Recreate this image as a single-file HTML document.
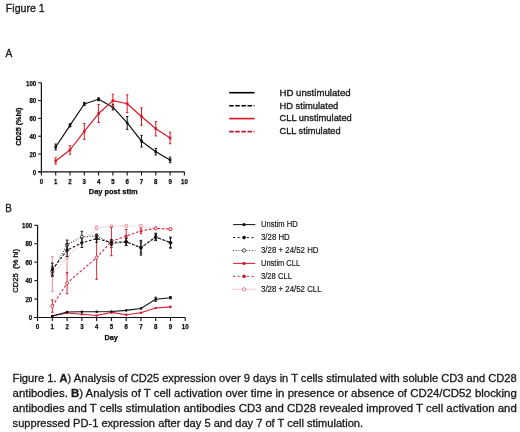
<!DOCTYPE html>
<html><head><meta charset="utf-8"><style>
html,body{margin:0;padding:0;background:#fff;}
svg{display:block;filter:blur(0.3px);}
text{font-family:"Liberation Sans",sans-serif;fill:#1a1a1a;}
.tk{fill:#111;stroke:#111;stroke-width:0.15px;}
.tkb{fill:#0a0a0a;font-weight:bold;stroke:#0a0a0a;stroke-width:0.25px;}
.cal{fill:#1a1a1a;stroke:#1a1a1a;stroke-width:0.3px;}
.big{stroke-width:0.35px;}
</style></head><body>
<svg width="520" height="432" viewBox="0 0 520 432">
<rect width="520" height="432" fill="#fff"/>
<line x1="41.4" y1="82.8" x2="41.4" y2="171.8" stroke="#111" stroke-width="1.2"/>
<line x1="38.2" y1="171.8" x2="184.4" y2="171.8" stroke="#111" stroke-width="1.2"/>
<line x1="38.2" y1="171.8" x2="41.4" y2="171.8" stroke="#111" stroke-width="1.1"/>
<text x="36.2" y="174.55" text-anchor="end" class="tkb" font-size="7.0" textLength="3.4" lengthAdjust="spacingAndGlyphs">0</text>
<line x1="38.2" y1="154" x2="41.4" y2="154" stroke="#111" stroke-width="1.1"/>
<text x="36.2" y="156.75" text-anchor="end" class="tkb" font-size="7.0" textLength="6.8" lengthAdjust="spacingAndGlyphs">20</text>
<line x1="38.2" y1="136.2" x2="41.4" y2="136.2" stroke="#111" stroke-width="1.1"/>
<text x="36.2" y="138.95" text-anchor="end" class="tkb" font-size="7.0" textLength="6.8" lengthAdjust="spacingAndGlyphs">40</text>
<line x1="38.2" y1="118.4" x2="41.4" y2="118.4" stroke="#111" stroke-width="1.1"/>
<text x="36.2" y="121.15" text-anchor="end" class="tkb" font-size="7.0" textLength="6.8" lengthAdjust="spacingAndGlyphs">60</text>
<line x1="38.2" y1="100.6" x2="41.4" y2="100.6" stroke="#111" stroke-width="1.1"/>
<text x="36.2" y="103.35" text-anchor="end" class="tkb" font-size="7.0" textLength="6.8" lengthAdjust="spacingAndGlyphs">80</text>
<line x1="38.2" y1="82.8" x2="41.4" y2="82.8" stroke="#111" stroke-width="1.1"/>
<text x="36.2" y="85.55" text-anchor="end" class="tkb" font-size="7.0" textLength="10.2" lengthAdjust="spacingAndGlyphs">100</text>
<line x1="41.4" y1="171.8" x2="41.4" y2="175.4" stroke="#111" stroke-width="1.1"/>
<text x="41.4" y="183.6" text-anchor="middle" class="tkb" font-size="7.0" textLength="3.4" lengthAdjust="spacingAndGlyphs">0</text>
<line x1="55.7" y1="171.8" x2="55.7" y2="175.4" stroke="#111" stroke-width="1.1"/>
<text x="55.7" y="183.6" text-anchor="middle" class="tkb" font-size="7.0" textLength="3.4" lengthAdjust="spacingAndGlyphs">1</text>
<line x1="70" y1="171.8" x2="70" y2="175.4" stroke="#111" stroke-width="1.1"/>
<text x="70" y="183.6" text-anchor="middle" class="tkb" font-size="7.0" textLength="3.4" lengthAdjust="spacingAndGlyphs">2</text>
<line x1="84.3" y1="171.8" x2="84.3" y2="175.4" stroke="#111" stroke-width="1.1"/>
<text x="84.3" y="183.6" text-anchor="middle" class="tkb" font-size="7.0" textLength="3.4" lengthAdjust="spacingAndGlyphs">3</text>
<line x1="98.6" y1="171.8" x2="98.6" y2="175.4" stroke="#111" stroke-width="1.1"/>
<text x="98.6" y="183.6" text-anchor="middle" class="tkb" font-size="7.0" textLength="3.4" lengthAdjust="spacingAndGlyphs">4</text>
<line x1="112.9" y1="171.8" x2="112.9" y2="175.4" stroke="#111" stroke-width="1.1"/>
<text x="112.9" y="183.6" text-anchor="middle" class="tkb" font-size="7.0" textLength="3.4" lengthAdjust="spacingAndGlyphs">5</text>
<line x1="127.2" y1="171.8" x2="127.2" y2="175.4" stroke="#111" stroke-width="1.1"/>
<text x="127.2" y="183.6" text-anchor="middle" class="tkb" font-size="7.0" textLength="3.4" lengthAdjust="spacingAndGlyphs">6</text>
<line x1="141.5" y1="171.8" x2="141.5" y2="175.4" stroke="#111" stroke-width="1.1"/>
<text x="141.5" y="183.6" text-anchor="middle" class="tkb" font-size="7.0" textLength="3.4" lengthAdjust="spacingAndGlyphs">7</text>
<line x1="155.8" y1="171.8" x2="155.8" y2="175.4" stroke="#111" stroke-width="1.1"/>
<text x="155.8" y="183.6" text-anchor="middle" class="tkb" font-size="7.0" textLength="3.4" lengthAdjust="spacingAndGlyphs">8</text>
<line x1="170.1" y1="171.8" x2="170.1" y2="175.4" stroke="#111" stroke-width="1.1"/>
<text x="170.1" y="183.6" text-anchor="middle" class="tkb" font-size="7.0" textLength="3.4" lengthAdjust="spacingAndGlyphs">9</text>
<line x1="184.4" y1="171.8" x2="184.4" y2="175.4" stroke="#111" stroke-width="1.1"/>
<text x="184.4" y="183.6" text-anchor="middle" class="tkb" font-size="7.0" textLength="6.8" lengthAdjust="spacingAndGlyphs">10</text>
<polyline points="55.7,146.97 70,125.34 84.3,103.98 98.6,99.27 112.9,107.19 127.2,122.94 141.5,141.18 155.8,151.69 170.1,159.96" fill="none" stroke="#111" stroke-width="1.2" stroke-linejoin="round"/>
<path d="M55.7,144.03V149.91M54.5,144.03H56.9M54.5,149.91H56.9" stroke="#111" stroke-width="1" fill="none"/>
<path d="M70,123.74V126.94M68.8,123.74H71.2M68.8,126.94H71.2" stroke="#111" stroke-width="1" fill="none"/>
<path d="M84.3,102.47V105.5M83.1,102.47H85.5M83.1,105.5H85.5" stroke="#111" stroke-width="1" fill="none"/>
<path d="M98.6,97.84V100.69M97.4,97.84H99.8M97.4,100.69H99.8" stroke="#111" stroke-width="1" fill="none"/>
<path d="M112.9,104.43V109.95M111.7,104.43H114.1M111.7,109.95H114.1" stroke="#111" stroke-width="1" fill="none"/>
<path d="M127.2,116.53V129.35M126,116.53H128.4M126,129.35H128.4" stroke="#111" stroke-width="1" fill="none"/>
<path d="M141.5,135.4V146.97M140.3,135.4H142.7M140.3,146.97H142.7" stroke="#111" stroke-width="1" fill="none"/>
<path d="M155.8,148.48V154.89M154.6,148.48H157M154.6,154.89H157" stroke="#111" stroke-width="1" fill="none"/>
<path d="M170.1,157.2V162.72M168.9,157.2H171.3M168.9,162.72H171.3" stroke="#111" stroke-width="1" fill="none"/>
<rect x="54.4" y="145.67" width="2.6" height="2.6" fill="#111"/>
<rect x="68.7" y="124.04" width="2.6" height="2.6" fill="#111"/>
<rect x="83" y="102.68" width="2.6" height="2.6" fill="#111"/>
<rect x="97.3" y="97.97" width="2.6" height="2.6" fill="#111"/>
<rect x="111.6" y="105.89" width="2.6" height="2.6" fill="#111"/>
<rect x="125.9" y="121.64" width="2.6" height="2.6" fill="#111"/>
<rect x="140.2" y="139.88" width="2.6" height="2.6" fill="#111"/>
<rect x="154.5" y="150.39" width="2.6" height="2.6" fill="#111"/>
<rect x="168.8" y="158.66" width="2.6" height="2.6" fill="#111"/>
<polyline points="55.7,160.94 70,150 84.3,131.48 98.6,113.51 112.9,100.6 127.2,103.72 141.5,116.53 155.8,128.72 170.1,137.98" fill="none" stroke="#d81a26" stroke-width="1.2" stroke-linejoin="round"/>
<path d="M55.7,157.83V164.06M54.5,157.83H56.9M54.5,164.06H56.9" stroke="#d81a26" stroke-width="1" fill="none"/>
<path d="M70,145.72V154.27M68.8,145.72H71.2M68.8,154.27H71.2" stroke="#d81a26" stroke-width="1" fill="none"/>
<path d="M84.3,123.56V139.4M83.1,123.56H85.5M83.1,139.4H85.5" stroke="#d81a26" stroke-width="1" fill="none"/>
<path d="M98.6,104.52V122.49M97.4,104.52H99.8M97.4,122.49H99.8" stroke="#d81a26" stroke-width="1" fill="none"/>
<path d="M112.9,94.19V107.01M111.7,94.19H114.1M111.7,107.01H114.1" stroke="#d81a26" stroke-width="1" fill="none"/>
<path d="M127.2,94.82V112.62M126,94.82H128.4M126,112.62H128.4" stroke="#d81a26" stroke-width="1" fill="none"/>
<path d="M141.5,107.81V125.25M140.3,107.81H142.7M140.3,125.25H142.7" stroke="#d81a26" stroke-width="1" fill="none"/>
<path d="M155.8,121.52V135.93M154.6,121.52H157M154.6,135.93H157" stroke="#d81a26" stroke-width="1" fill="none"/>
<path d="M170.1,132.19V143.77M168.9,132.19H171.3M168.9,143.77H171.3" stroke="#d81a26" stroke-width="1" fill="none"/>
<rect x="54.4" y="159.64" width="2.6" height="2.6" fill="#d81a26"/>
<rect x="68.7" y="148.69" width="2.6" height="2.6" fill="#d81a26"/>
<rect x="83" y="130.18" width="2.6" height="2.6" fill="#d81a26"/>
<rect x="97.3" y="112.21" width="2.6" height="2.6" fill="#d81a26"/>
<rect x="111.6" y="99.3" width="2.6" height="2.6" fill="#d81a26"/>
<rect x="125.9" y="102.42" width="2.6" height="2.6" fill="#d81a26"/>
<rect x="140.2" y="115.23" width="2.6" height="2.6" fill="#d81a26"/>
<rect x="154.5" y="127.42" width="2.6" height="2.6" fill="#d81a26"/>
<rect x="168.8" y="136.68" width="2.6" height="2.6" fill="#d81a26"/>
<text x="0" y="0" class="tkb" font-size="7.3" transform="translate(20.6,145.8) rotate(-90)" textLength="38.2" lengthAdjust="spacingAndGlyphs" >CD25 (%hi)</text>
<text x="88.8" y="194.2" class="tkb" font-size="7.9" textLength="48.8" lengthAdjust="spacingAndGlyphs">Day post stim</text>
<line x1="229.2" y1="92.7" x2="254.5" y2="92.7" stroke="#000" stroke-width="1.6"/>
<line x1="229.2" y1="105.8" x2="254.5" y2="105.8" stroke="#000" stroke-width="1.6" stroke-dasharray="4.5 1.6"/>
<line x1="229.2" y1="118.6" x2="254.5" y2="118.6" stroke="#d8141e" stroke-width="1.6"/>
<line x1="229.2" y1="131.6" x2="254.5" y2="131.6" stroke="#b81c2c" stroke-width="1.6" stroke-dasharray="4.5 1.6"/>
<text x="279.5" y="95.9" class="cal big" font-size="9.6" textLength="71.1" lengthAdjust="spacingAndGlyphs">HD unstimulated</text>
<text x="279.5" y="108.7" class="cal big" font-size="9.6" textLength="58.8" lengthAdjust="spacingAndGlyphs">HD stimulated</text>
<text x="279.5" y="121.4" class="cal big" font-size="9.6" textLength="72.3" lengthAdjust="spacingAndGlyphs">CLL unstimulated</text>
<text x="279.5" y="134.0" class="cal big" font-size="9.6" textLength="61.1" lengthAdjust="spacingAndGlyphs">CLL stimulated</text>
<line x1="37.55" y1="225.3" x2="37.55" y2="317.5" stroke="#111" stroke-width="1.2"/>
<line x1="34.35" y1="317.5" x2="185.25" y2="317.5" stroke="#111" stroke-width="1.2"/>
<line x1="34.35" y1="317.5" x2="37.55" y2="317.5" stroke="#111" stroke-width="1.1"/>
<text x="32.2" y="320.25" text-anchor="end" class="tkb" font-size="7.0" textLength="3.4" lengthAdjust="spacingAndGlyphs">0</text>
<line x1="34.35" y1="299.06" x2="37.55" y2="299.06" stroke="#111" stroke-width="1.1"/>
<text x="32.2" y="301.81" text-anchor="end" class="tkb" font-size="7.0" textLength="6.8" lengthAdjust="spacingAndGlyphs">20</text>
<line x1="34.35" y1="280.62" x2="37.55" y2="280.62" stroke="#111" stroke-width="1.1"/>
<text x="32.2" y="283.37" text-anchor="end" class="tkb" font-size="7.0" textLength="6.8" lengthAdjust="spacingAndGlyphs">40</text>
<line x1="34.35" y1="262.18" x2="37.55" y2="262.18" stroke="#111" stroke-width="1.1"/>
<text x="32.2" y="264.93" text-anchor="end" class="tkb" font-size="7.0" textLength="6.8" lengthAdjust="spacingAndGlyphs">60</text>
<line x1="34.35" y1="243.74" x2="37.55" y2="243.74" stroke="#111" stroke-width="1.1"/>
<text x="32.2" y="246.49" text-anchor="end" class="tkb" font-size="7.0" textLength="6.8" lengthAdjust="spacingAndGlyphs">80</text>
<line x1="34.35" y1="225.3" x2="37.55" y2="225.3" stroke="#111" stroke-width="1.1"/>
<text x="32.2" y="228.05" text-anchor="end" class="tkb" font-size="7.0" textLength="10.2" lengthAdjust="spacingAndGlyphs">100</text>
<line x1="37.55" y1="317.5" x2="37.55" y2="321.1" stroke="#111" stroke-width="1.1"/>
<text x="37.55" y="328.7" text-anchor="middle" class="tkb" font-size="7.0" textLength="3.4" lengthAdjust="spacingAndGlyphs">0</text>
<line x1="52.32" y1="317.5" x2="52.32" y2="321.1" stroke="#111" stroke-width="1.1"/>
<text x="52.32" y="328.7" text-anchor="middle" class="tkb" font-size="7.0" textLength="3.4" lengthAdjust="spacingAndGlyphs">1</text>
<line x1="67.09" y1="317.5" x2="67.09" y2="321.1" stroke="#111" stroke-width="1.1"/>
<text x="67.09" y="328.7" text-anchor="middle" class="tkb" font-size="7.0" textLength="3.4" lengthAdjust="spacingAndGlyphs">2</text>
<line x1="81.86" y1="317.5" x2="81.86" y2="321.1" stroke="#111" stroke-width="1.1"/>
<text x="81.86" y="328.7" text-anchor="middle" class="tkb" font-size="7.0" textLength="3.4" lengthAdjust="spacingAndGlyphs">3</text>
<line x1="96.63" y1="317.5" x2="96.63" y2="321.1" stroke="#111" stroke-width="1.1"/>
<text x="96.63" y="328.7" text-anchor="middle" class="tkb" font-size="7.0" textLength="3.4" lengthAdjust="spacingAndGlyphs">4</text>
<line x1="111.4" y1="317.5" x2="111.4" y2="321.1" stroke="#111" stroke-width="1.1"/>
<text x="111.4" y="328.7" text-anchor="middle" class="tkb" font-size="7.0" textLength="3.4" lengthAdjust="spacingAndGlyphs">5</text>
<line x1="126.17" y1="317.5" x2="126.17" y2="321.1" stroke="#111" stroke-width="1.1"/>
<text x="126.17" y="328.7" text-anchor="middle" class="tkb" font-size="7.0" textLength="3.4" lengthAdjust="spacingAndGlyphs">6</text>
<line x1="140.94" y1="317.5" x2="140.94" y2="321.1" stroke="#111" stroke-width="1.1"/>
<text x="140.94" y="328.7" text-anchor="middle" class="tkb" font-size="7.0" textLength="3.4" lengthAdjust="spacingAndGlyphs">7</text>
<line x1="155.71" y1="317.5" x2="155.71" y2="321.1" stroke="#111" stroke-width="1.1"/>
<text x="155.71" y="328.7" text-anchor="middle" class="tkb" font-size="7.0" textLength="3.4" lengthAdjust="spacingAndGlyphs">8</text>
<line x1="170.48" y1="317.5" x2="170.48" y2="321.1" stroke="#111" stroke-width="1.1"/>
<text x="170.48" y="328.7" text-anchor="middle" class="tkb" font-size="7.0" textLength="3.4" lengthAdjust="spacingAndGlyphs">9</text>
<line x1="185.25" y1="317.5" x2="185.25" y2="321.1" stroke="#111" stroke-width="1.1"/>
<text x="185.25" y="328.7" text-anchor="middle" class="tkb" font-size="7.0" textLength="6.8" lengthAdjust="spacingAndGlyphs">10</text>
<polyline points="52.32,274.17 67.09,257.57 96.63,227.79 111.4,226.31 126.17,225.95 140.94,225.95 155.71,228.34 170.48,229.08" fill="none" stroke="#f0a0b0" stroke-width="1.1" stroke-dasharray="0.9 1.6"/>
<path d="M52.32,256.65V291.68M51.02,256.65H53.62M51.02,291.68H53.62" stroke="#e88898" stroke-width="1" fill="none"/>
<path d="M67.09,240.97V274.17M65.79,240.97H68.39M65.79,274.17H68.39" stroke="#e88898" stroke-width="1" fill="none"/>
<path d="M96.63,225.95V229.63M95.33,225.95H97.93M95.33,229.63H97.93" stroke="#e88898" stroke-width="1" fill="none"/>
<path d="M111.4,225.39V227.24M110.1,225.39H112.7M110.1,227.24H112.7" stroke="#e88898" stroke-width="1" fill="none"/>
<path d="M126.17,225.02V226.87M124.87,225.02H127.47M124.87,226.87H127.47" stroke="#e88898" stroke-width="1" fill="none"/>
<path d="M140.94,225.02V226.87M139.64,225.02H142.24M139.64,226.87H142.24" stroke="#e88898" stroke-width="1" fill="none"/>
<path d="M155.71,227.42V229.26M154.41,227.42H157.01M154.41,229.26H157.01" stroke="#e88898" stroke-width="1" fill="none"/>
<path d="M170.48,228.16V230M169.18,228.16H171.78M169.18,230H171.78" stroke="#e88898" stroke-width="1" fill="none"/>
<circle cx="52.32" cy="274.17" r="1.5" fill="#fff" stroke="#e88898" stroke-width="0.9"/>
<circle cx="67.09" cy="257.57" r="1.5" fill="#fff" stroke="#e88898" stroke-width="0.9"/>
<circle cx="96.63" cy="227.79" r="1.5" fill="#fff" stroke="#e88898" stroke-width="0.9"/>
<circle cx="111.4" cy="226.31" r="1.5" fill="#fff" stroke="#e88898" stroke-width="0.9"/>
<circle cx="126.17" cy="225.95" r="1.5" fill="#fff" stroke="#e88898" stroke-width="0.9"/>
<circle cx="140.94" cy="225.95" r="1.5" fill="#fff" stroke="#e88898" stroke-width="0.9"/>
<circle cx="155.71" cy="228.34" r="1.5" fill="#fff" stroke="#e88898" stroke-width="0.9"/>
<circle cx="170.48" cy="229.08" r="1.5" fill="#fff" stroke="#e88898" stroke-width="0.9"/>
<polyline points="52.32,271.4 67.09,244.66 81.86,236.82 96.63,235.9 111.4,243.74 126.17,241.9 140.94,247.43 155.71,237.29 170.48,242.82" fill="none" stroke="#333" stroke-width="1.1" stroke-dasharray="0.9 1.6"/>
<path d="M52.32,266.79V276.01M51.02,266.79H53.62M51.02,276.01H53.62" stroke="#222" stroke-width="1" fill="none"/>
<path d="M67.09,240.05V249.27M65.79,240.05H68.39M65.79,249.27H68.39" stroke="#222" stroke-width="1" fill="none"/>
<path d="M81.86,231.29V242.36M80.56,231.29H83.16M80.56,242.36H83.16" stroke="#222" stroke-width="1" fill="none"/>
<path d="M96.63,234.06V237.75M95.33,234.06H97.93M95.33,237.75H97.93" stroke="#222" stroke-width="1" fill="none"/>
<path d="M111.4,240.05V247.43M110.1,240.05H112.7M110.1,247.43H112.7" stroke="#222" stroke-width="1" fill="none"/>
<path d="M126.17,238.21V245.58M124.87,238.21H127.47M124.87,245.58H127.47" stroke="#222" stroke-width="1" fill="none"/>
<path d="M140.94,241.9V252.96M139.64,241.9H142.24M139.64,252.96H142.24" stroke="#222" stroke-width="1" fill="none"/>
<path d="M155.71,234.52V240.05M154.41,234.52H157.01M154.41,240.05H157.01" stroke="#222" stroke-width="1" fill="none"/>
<path d="M170.48,238.21V247.43M169.18,238.21H171.78M169.18,247.43H171.78" stroke="#222" stroke-width="1" fill="none"/>
<circle cx="52.32" cy="271.4" r="1.5" fill="#fff" stroke="#222" stroke-width="0.9"/>
<circle cx="67.09" cy="244.66" r="1.5" fill="#fff" stroke="#222" stroke-width="0.9"/>
<circle cx="81.86" cy="236.82" r="1.5" fill="#fff" stroke="#222" stroke-width="0.9"/>
<circle cx="96.63" cy="235.9" r="1.5" fill="#fff" stroke="#222" stroke-width="0.9"/>
<circle cx="111.4" cy="243.74" r="1.5" fill="#fff" stroke="#222" stroke-width="0.9"/>
<circle cx="126.17" cy="241.9" r="1.5" fill="#fff" stroke="#222" stroke-width="0.9"/>
<circle cx="140.94" cy="247.43" r="1.5" fill="#fff" stroke="#222" stroke-width="0.9"/>
<circle cx="155.71" cy="237.29" r="1.5" fill="#fff" stroke="#222" stroke-width="0.9"/>
<circle cx="170.48" cy="242.82" r="1.5" fill="#fff" stroke="#222" stroke-width="0.9"/>
<polyline points="52.32,306.07 67.09,283.11 96.63,257.57 111.4,241.44 126.17,236 140.94,230.92 155.71,228.34 170.48,229.08" fill="none" stroke="#d8283c" stroke-width="1.1" stroke-dasharray="2.6 1.8"/>
<path d="M52.32,299.89V312.24M51.02,299.89H53.62M51.02,312.24H53.62" stroke="#d8283c" stroke-width="1" fill="none"/>
<path d="M67.09,272.51V293.71M65.79,272.51H68.39M65.79,293.71H68.39" stroke="#d8283c" stroke-width="1" fill="none"/>
<path d="M96.63,235.81V279.33M95.33,235.81H97.93M95.33,279.33H97.93" stroke="#d8283c" stroke-width="1" fill="none"/>
<path d="M111.4,227.14V255.73M110.1,227.14H112.7M110.1,255.73H112.7" stroke="#d8283c" stroke-width="1" fill="none"/>
<path d="M126.17,229.54V242.45M124.87,229.54H127.47M124.87,242.45H127.47" stroke="#d8283c" stroke-width="1" fill="none"/>
<path d="M140.94,228.16V233.69M139.64,228.16H142.24M139.64,233.69H142.24" stroke="#d8283c" stroke-width="1" fill="none"/>
<path d="M155.71,227.42V229.26M154.41,227.42H157.01M154.41,229.26H157.01" stroke="#d8283c" stroke-width="1" fill="none"/>
<path d="M170.48,228.16V230M169.18,228.16H171.78M169.18,230H171.78" stroke="#d8283c" stroke-width="1" fill="none"/>
<circle cx="52.32" cy="306.07" r="1.5" fill="#fff" stroke="#d8283c" stroke-width="0.9"/>
<circle cx="67.09" cy="283.11" r="1.5" fill="#fff" stroke="#d8283c" stroke-width="0.9"/>
<circle cx="96.63" cy="257.57" r="1.5" fill="#fff" stroke="#d8283c" stroke-width="0.9"/>
<circle cx="111.4" cy="241.44" r="1.5" fill="#fff" stroke="#d8283c" stroke-width="0.9"/>
<circle cx="126.17" cy="236" r="1.5" fill="#d8283c"/>
<circle cx="140.94" cy="230.92" r="1.5" fill="#d8283c"/>
<circle cx="155.71" cy="228.34" r="1.5" fill="#fff" stroke="#d8283c" stroke-width="0.9"/>
<circle cx="170.48" cy="229.08" r="1.5" fill="#fff" stroke="#d8283c" stroke-width="0.9"/>
<polyline points="52.32,269.56 67.09,250.19 81.86,242.82 96.63,238.67 111.4,242.45 126.17,241.8 140.94,247.7 155.71,236.92 170.48,242.63" fill="none" stroke="#111" stroke-width="1.1" stroke-dasharray="2.6 1.8"/>
<path d="M52.32,263.1V276.01M51.02,263.1H53.62M51.02,276.01H53.62" stroke="#111" stroke-width="1" fill="none"/>
<path d="M67.09,243.74V256.65M65.79,243.74H68.39M65.79,256.65H68.39" stroke="#111" stroke-width="1" fill="none"/>
<path d="M81.86,238.21V247.43M80.56,238.21H83.16M80.56,247.43H83.16" stroke="#111" stroke-width="1" fill="none"/>
<path d="M96.63,234.98V242.36M95.33,234.98H97.93M95.33,242.36H97.93" stroke="#111" stroke-width="1" fill="none"/>
<path d="M111.4,239.68V245.22M110.1,239.68H112.7M110.1,245.22H112.7" stroke="#111" stroke-width="1" fill="none"/>
<path d="M126.17,238.12V245.49M124.87,238.12H127.47M124.87,245.49H127.47" stroke="#111" stroke-width="1" fill="none"/>
<path d="M140.94,240.33V255.08M139.64,240.33H142.24M139.64,255.08H142.24" stroke="#111" stroke-width="1" fill="none"/>
<path d="M155.71,233.23V240.61M154.41,233.23H157.01M154.41,240.61H157.01" stroke="#111" stroke-width="1" fill="none"/>
<path d="M170.48,237.1V248.17M169.18,237.1H171.78M169.18,248.17H171.78" stroke="#111" stroke-width="1" fill="none"/>
<circle cx="52.32" cy="269.56" r="1.6" fill="#111"/>
<circle cx="67.09" cy="250.19" r="1.6" fill="#111"/>
<circle cx="81.86" cy="242.82" r="1.6" fill="#111"/>
<circle cx="96.63" cy="238.67" r="1.6" fill="#111"/>
<circle cx="111.4" cy="242.45" r="1.6" fill="#111"/>
<circle cx="126.17" cy="241.8" r="1.6" fill="#111"/>
<circle cx="140.94" cy="247.7" r="1.6" fill="#111"/>
<circle cx="155.71" cy="236.92" r="1.6" fill="#111"/>
<circle cx="170.48" cy="242.63" r="1.6" fill="#111"/>
<polyline points="52.32,316.02 67.09,313.07 81.86,314.18 96.63,315.47 111.4,312.34 126.17,314.73 140.94,312.8 155.71,308 170.48,306.9" fill="none" stroke="#d01c34" stroke-width="1.1"/>
<circle cx="52.32" cy="316.02" r="1.3" fill="#d01c34"/>
<circle cx="67.09" cy="313.07" r="1.3" fill="#d01c34"/>
<circle cx="81.86" cy="314.18" r="1.3" fill="#d01c34"/>
<circle cx="96.63" cy="315.47" r="1.3" fill="#d01c34"/>
<circle cx="111.4" cy="312.34" r="1.3" fill="#d01c34"/>
<circle cx="126.17" cy="314.73" r="1.3" fill="#d01c34"/>
<circle cx="140.94" cy="312.8" r="1.3" fill="#d01c34"/>
<circle cx="155.71" cy="308" r="1.3" fill="#d01c34"/>
<circle cx="170.48" cy="306.9" r="1.3" fill="#d01c34"/>
<polyline points="52.32,316.02 67.09,311.97 81.86,311.69 96.63,311.69 111.4,311.51 126.17,310.4 140.94,308.46 155.71,299.24 170.48,297.68" fill="none" stroke="#111" stroke-width="1.1"/>
<path d="M155.71,297.22V301.27M154.41,297.22H157.01M154.41,301.27H157.01" stroke="#111" stroke-width="1" fill="none"/>
<path d="M170.48,296.57V298.78M169.18,296.57H171.78M169.18,298.78H171.78" stroke="#111" stroke-width="1" fill="none"/>
<circle cx="52.32" cy="316.02" r="1.3" fill="#111"/>
<circle cx="67.09" cy="311.97" r="1.3" fill="#111"/>
<circle cx="81.86" cy="311.69" r="1.3" fill="#111"/>
<circle cx="96.63" cy="311.69" r="1.3" fill="#111"/>
<circle cx="111.4" cy="311.51" r="1.3" fill="#111"/>
<circle cx="126.17" cy="310.4" r="1.3" fill="#111"/>
<circle cx="140.94" cy="308.46" r="1.3" fill="#111"/>
<circle cx="155.71" cy="299.24" r="1.3" fill="#111"/>
<circle cx="170.48" cy="297.68" r="1.3" fill="#111"/>
<text x="0" y="0" class="tk" style="stroke-width:0.35px" font-size="7.7" transform="translate(17.9,292.8) rotate(-90)" textLength="43.8" lengthAdjust="spacingAndGlyphs" xml:space="preserve">CD25  (% hi)</text>
<text x="104.4" y="339.9" class="tkb" font-size="7.8" textLength="13.4" lengthAdjust="spacingAndGlyphs">Day</text>
<line x1="233.1" y1="224.6" x2="255.3" y2="224.6" stroke="#111" stroke-width="1"/>
<line x1="233.1" y1="237.6" x2="255.3" y2="237.6" stroke="#111" stroke-width="1" stroke-dasharray="2 2.6"/>
<line x1="233.1" y1="250.5" x2="255.3" y2="250.5" stroke="#333" stroke-width="1" stroke-dasharray="0.9 1.8"/>
<line x1="233.1" y1="263.4" x2="255.3" y2="263.4" stroke="#d01c34" stroke-width="1"/>
<line x1="233.1" y1="276.4" x2="255.3" y2="276.4" stroke="#d01c34" stroke-width="1" stroke-dasharray="2 2.6"/>
<line x1="233.1" y1="289.3" x2="255.3" y2="289.3" stroke="#e87080" stroke-width="1" stroke-dasharray="0.9 1.8"/>
<circle cx="244.1" cy="224.6" r="1.7" fill="#111"/>
<circle cx="244.1" cy="237.6" r="1.8" fill="#111"/>
<circle cx="244.1" cy="250.5" r="1.7" fill="#fff" stroke="#333" stroke-width="0.9"/>
<circle cx="244.1" cy="263.4" r="1.7" fill="#d01c34"/>
<circle cx="244.1" cy="276.4" r="1.8" fill="#d01c34"/>
<circle cx="244.1" cy="289.3" r="1.7" fill="#fff" stroke="#e87080" stroke-width="0.9"/>
<text x="261" y="227.4" class="tk" font-size="8.3" textLength="36.7" lengthAdjust="spacingAndGlyphs">Unstim HD</text>
<text x="261" y="240.3" class="tk" font-size="8.3" textLength="28.7" lengthAdjust="spacingAndGlyphs">3/28 HD</text>
<text x="261" y="253.1" class="tk" font-size="8.3" textLength="57.5" lengthAdjust="spacingAndGlyphs">3/28 + 24/52 HD</text>
<text x="261" y="266.1" class="tk" font-size="8.3" textLength="39.1" lengthAdjust="spacingAndGlyphs">Unstim CLL</text>
<text x="261" y="279.0" class="tk" font-size="8.3" textLength="31.0" lengthAdjust="spacingAndGlyphs">3/28 CLL</text>
<text x="261" y="291.8" class="tk" font-size="8.3" textLength="60.6" lengthAdjust="spacingAndGlyphs">3/28 + 24/52 CLL</text>
<text x="5.8" y="12.4" class="cal big" font-size="11.4" textLength="38.9" lengthAdjust="spacingAndGlyphs">Figure 1</text>
<text x="5.4" y="57.3" class="cal big" font-size="10.6" textLength="6.8" lengthAdjust="spacingAndGlyphs">A</text>
<text x="5.3" y="211.7" class="cal big" font-size="11.2" textLength="6.6" lengthAdjust="spacingAndGlyphs">B</text>
<text x="12.6" y="381.8" class="cal" font-size="10.4" textLength="504" lengthAdjust="spacingAndGlyphs">Figure 1. <tspan font-weight="bold">A</tspan>) Analysis of CD25 expression over 9 days in T cells stimulated with soluble CD3 and CD28</text>
<text x="12.6" y="396.8" class="cal" font-size="10.4" textLength="504.2" lengthAdjust="spacingAndGlyphs">antibodies. <tspan font-weight="bold">B</tspan>) Analysis of T cell activation over time in presence or absence of CD24/CD52 blocking</text>
<text x="12.6" y="411.5" class="cal" font-size="10.4" textLength="504.2" lengthAdjust="spacingAndGlyphs">antibodies and T cells stimulation antibodies CD3 and CD28 revealed improved T cell activation and</text>
<text x="12.6" y="427.0" class="cal" font-size="10.4" textLength="350.5" lengthAdjust="spacingAndGlyphs">suppressed PD-1 expression after day 5 and day 7 of T cell stimulation.</text>
</svg>
</body></html>
